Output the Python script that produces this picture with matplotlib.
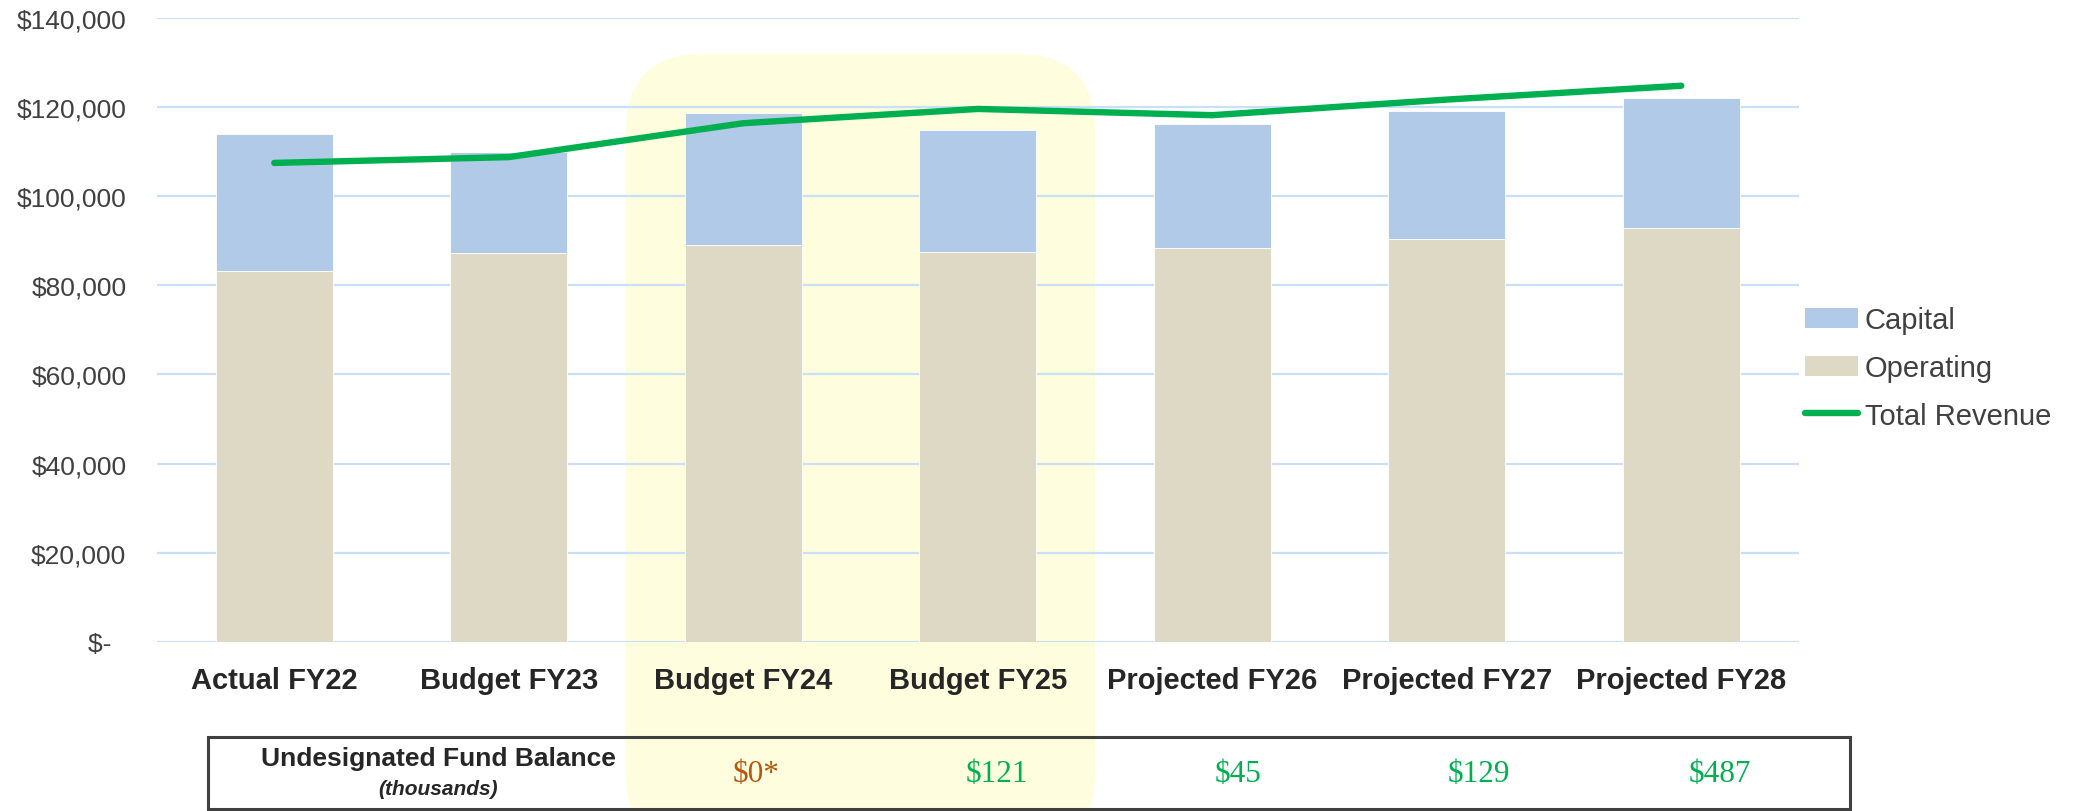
# plot.py — operating/capital spending vs total revenue, with fund balance strip underneath
import numpy as np, matplotlib
matplotlib.use("Agg")
import matplotlib.pyplot as plt
from matplotlib.patches import FancyBboxPatch, Patch, Rectangle
from matplotlib.lines import Line2D
from matplotlib.transforms import IdentityTransform

categories = ["Actual FY22", "Budget FY23", "Budget FY24", "Budget FY25",
              "Projected FY26", "Projected FY27", "Projected FY28"]
operating = [83200, 87200, 89100, 87400, 88300, 90400, 92700]
capital = [30600, 22600, 29600, 27400, 27800, 28600, 29200]
total_revenue = [107400, 108700, 116300, 119500, 118100, 121600, 124700]
highlighted = ["Budget FY24", "Budget FY25"]

fund_balance = ["$0*", "$121", "$45", "$129", "$487"]
fund_colors = ["#B5580F", "#00B050", "#00B050", "#00B050", "#00B050"]

yticks = [0, 20000, 40000, 60000, 80000, 100000, 120000, 140000]
ytick_labels = ["$-  ", "$20,000", "$40,000", "$60,000", "$80,000",
                "$100,000", "$120,000", "$140,000"]

plt.rcParams["font.family"] = ["Liberation Sans", "DejaVu Sans"]
W, H = 2077, 812
fig = plt.figure(figsize=(W / 100, H / 100), dpi=100)
ax = fig.add_axes([157 / W, 169 / H, 1641.5 / W, 624.5 / H])

x = np.arange(len(categories))
ax.bar(x, operating, width=0.5, color="#DDD9C4", edgecolor="white", linewidth=0.6, zorder=2)
ax.bar(x, capital, bottom=operating, width=0.5, color="#B0CAE8", edgecolor="white", linewidth=0.6, zorder=2)
ax.plot(x, total_revenue, color="#00B050", lw=4.6, solid_capstyle="round", solid_joinstyle="round", zorder=3)

ax.set_xlim(-0.5, len(categories) - 0.5)
ax.set_ylim(0, 140000)
ax.set_yticks(yticks, ytick_labels)
ax.set_xticks(x, categories)
for s in ax.spines.values(): s.set_visible(False)
ax.grid(axis="y", color="#C9DFF5", lw=1.6)
ax.set_axisbelow(True)
ax.tick_params(axis="y", length=0, pad=22, labelsize=19, labelcolor="#404040")
ax.tick_params(axis="x", length=0, pad=17, labelsize=21, labelcolor="#262626")
for t in ax.get_xticklabels(): t.set_fontweight("bold")

# rounded yellow band behind the two budget years, running down into the strip
i0 = categories.index(highlighted[0]); i1 = categories.index(highlighted[-1])
x0, ytop = ax.transData.transform((i0 - 0.5, 131800))
x1, _ = ax.transData.transform((i1 + 0.5, 0))
ybot = -39
band = FancyBboxPatch((x0, ybot), x1 - x0, ytop - ybot, boxstyle="round,pad=0,rounding_size=77",
                      transform=IdentityTransform(), facecolor="#FEFEDF", edgecolor="none",
                      clip_on=False, zorder=0)
ax.add_artist(band)

# fund balance strip (its own evenly spaced columns, not tied to the bars)
px = IdentityTransform()
fig.add_artist(Rectangle((208, 2), 1642, 72, transform=px, fill=False,
                         edgecolor="#404040", lw=2.2, zorder=5))
fig.text(438, 53, "Undesignated Fund Balance", transform=px, ha="center", va="center",
         fontsize=19, fontweight="bold", color="#262626")
fig.text(438, 22, "(thousands)", transform=px, ha="center", va="center",
         fontsize=15, fontweight="bold", fontstyle="italic", color="#262626")
for i, (v, col) in enumerate(zip(fund_balance, fund_colors)):
    fig.text(756 + 241 * i, 37, v, transform=px, ha="center", va="center",
             fontsize=22.5, color=col, family=["Liberation Serif", "DejaVu Serif"])

handles = [Patch(facecolor="#B0CAE8"), Patch(facecolor="#DDD9C4"),
           Line2D([], [], color="#00B050", lw=4.6, solid_capstyle="round")]
fig.legend(handles, ["Capital", "Operating", "Total Revenue"], loc="center left",
           bbox_to_anchor=(1805 / W, (H - 369) / H), frameon=False, fontsize=21,
           handlelength=1.8, handletextpad=0.25, labelspacing=0.67, borderpad=0,
           borderaxespad=0, labelcolor="#404040")

fig.savefig("out.png", dpi=100)
